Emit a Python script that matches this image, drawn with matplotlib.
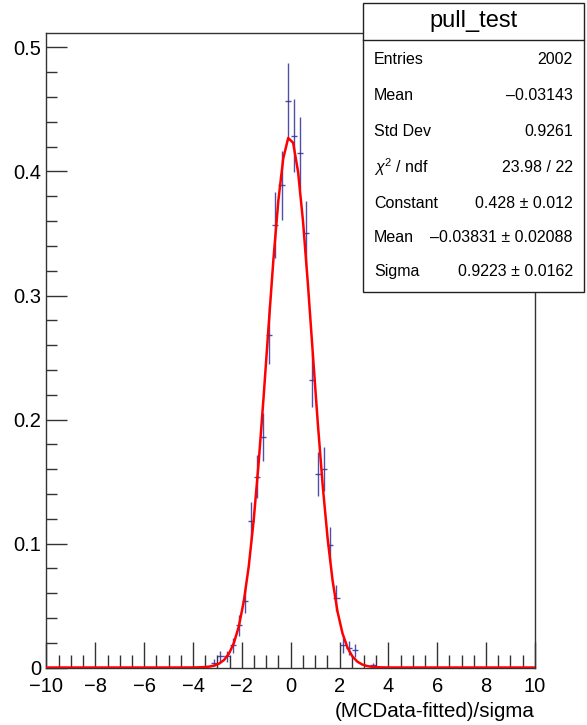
import numpy as np
import matplotlib.pyplot as plt
from matplotlib.ticker import MultipleLocator

plt.rcParams['font.family'] = ['Liberation Sans', 'DejaVu Sans']
plt.rcParams['mathtext.fontset'] = 'custom'
plt.rcParams['mathtext.rm'] = 'Liberation Sans'
plt.rcParams['mathtext.it'] = 'Liberation Sans:italic'

#-------------------------------------------------------------------------------
# histogram (normalised), bin width 0.25
n_entries = 2002
bin_w = 0.25
centers = np.array([-3.125, -2.875, -2.625, -2.375, -2.125, -1.875, -1.625, -1.375,
                    -1.125, -0.875, -0.625, -0.375, -0.125, 0.125, 0.375, 0.625,
                    0.875, 1.125, 1.375, 1.625, 1.875, 2.125, 2.375, 2.625, 3.375])
vals = np.array([0.004, 0.009, 0.009, 0.018, 0.034, 0.054, 0.118, 0.154,
                 0.186, 0.268, 0.357, 0.389, 0.457, 0.429, 0.415, 0.350,
                 0.232, 0.156, 0.160, 0.099, 0.056, 0.018, 0.016, 0.014, 0.002])
errs = np.sqrt(vals / (n_entries * bin_w))

# gaus fit parameters
g_const = 0.428
g_mean = -0.03831
g_sigma = 0.9223

stat_names = ['Entries', 'Mean', 'Std Dev', r'$\chi^{2}$ / ndf', 'Constant', 'Mean', 'Sigma']
stat_vals = ['2002', '\u20130.03143', '0.9261', '23.98 / 22', '0.428 \u00b1 0.012',
             '\u20130.03831 \u00b1 0.02088', '0.9223 \u00b1 0.0162']

fig = plt.figure(figsize=(5.87, 7.25), dpi=100)
ax = fig.add_axes([0.0792, 0.0793, 0.832, 0.8752])

blue = '#30309a'
ax.errorbar(centers, vals, xerr=bin_w / 2, yerr=errs, fmt='none', ecolor=blue,
            elinewidth=1.0, capsize=0, alpha=0.85)

xf = np.linspace(-10, 10, 100)
yf = g_const * np.exp(-0.5 * ((xf - g_mean) / g_sigma) ** 2)
ax.plot(xf, yf, c='#ff0000', lw=1.8, zorder=3)

ax.set_xlim(-10, 10)
ax.set_ylim(0, 0.5117)
ax.xaxis.set_major_locator(MultipleLocator(2))
ax.xaxis.set_minor_locator(MultipleLocator(0.5))
ax.yaxis.set_major_locator(MultipleLocator(0.1))
ax.yaxis.set_minor_locator(MultipleLocator(0.02))
ax.tick_params(which='both', direction='in', top=False, right=False, colors='#333333',
               labelcolor='k', labelsize=14.5, width=1.0)
ax.tick_params(axis='x', which='major', length=19, pad=7)
ax.tick_params(axis='x', which='minor', length=9.5)
ax.tick_params(axis='y', which='major', length=15, pad=4)
ax.tick_params(axis='y', which='minor', length=8)
ax.set_yticks([0, 0.1, 0.2, 0.3, 0.4, 0.5])
ax.set_yticklabels(['0', '0.1', '0.2', '0.3', '0.4', '0.5'])
for s in ax.spines.values():
    s.set_color('#333333')
    s.set_linewidth(1.0)

ax.set_xlabel('(MCData-fitted)/sigma', fontsize=14.8, loc='right', labelpad=4)

# stats box
bx0, bx1 = 363 / 587, 584 / 587
by0, by1 = 1 - 292 / 725, 1 - 3 / 725
bsep = 1 - 40 / 725
box = plt.Rectangle((bx0, by0), bx1 - bx0, by1 - by0, transform=fig.transFigure,
                    facecolor='white', edgecolor='#222222', lw=1.0, zorder=10)
fig.patches.append(box)
fig.add_artist(plt.Line2D([bx0, bx1], [bsep, bsep], transform=fig.transFigure,
                          color='#222222', lw=1.0, zorder=11))
fig.text((bx0 + bx1) / 2, (bsep + by1) / 2 + 0.001, 'pull_test', ha='center', va='center',
         fontsize=17, zorder=12)
row_y = [60, 95, 131, 167, 203, 238, 272]
for name, v, yy in zip(stat_names, stat_vals, row_y):
    fig.text(374 / 587, 1 - yy / 725, name, ha='left', va='center', fontsize=11.5, zorder=12)
    fig.text(573 / 587, 1 - yy / 725, v, ha='right', va='center', fontsize=11.5, zorder=12)

fig.savefig('out.png', dpi=100)
